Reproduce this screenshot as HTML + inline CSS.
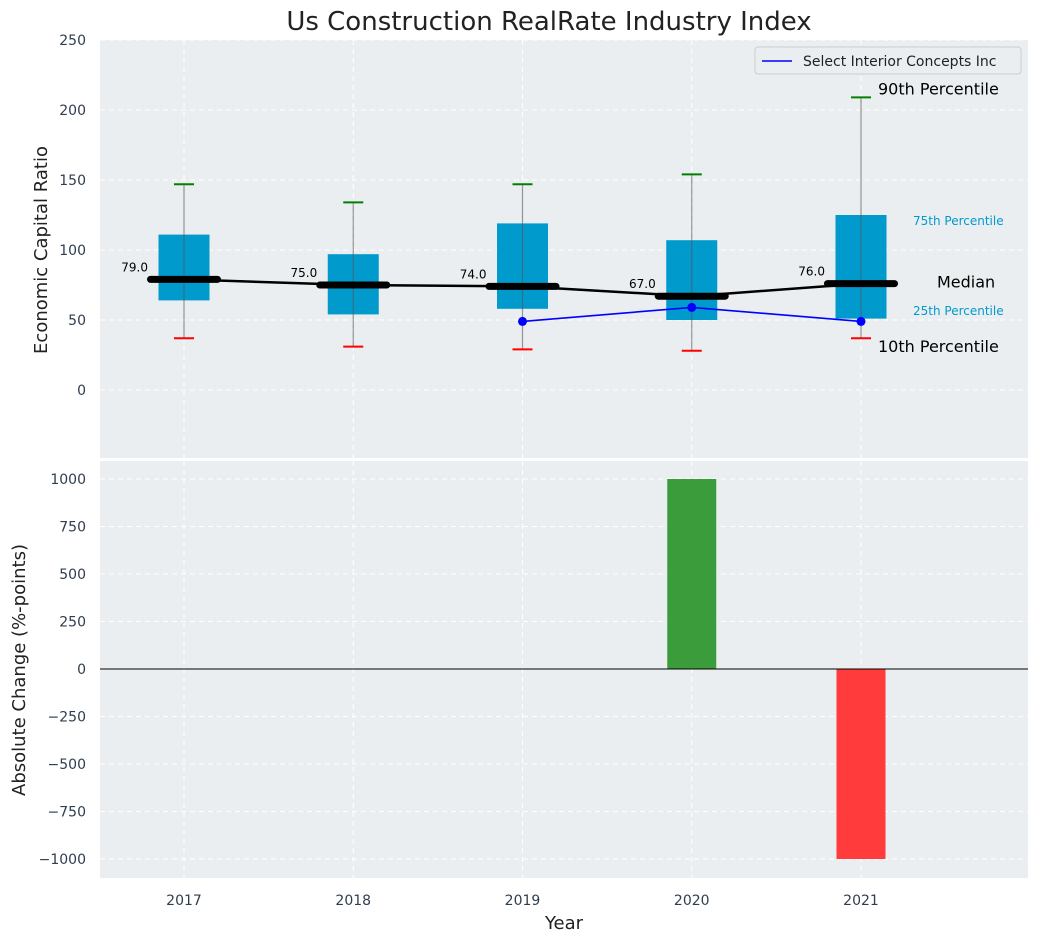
<!DOCTYPE html>
<html><head><meta charset="utf-8"><style>
body{margin:0;background:#fff;font-family:"Liberation Sans","DejaVu Sans",sans-serif}
svg text{font-family:"DejaVu Sans","Liberation Sans",sans-serif}
</style></head><body>
<svg id="c" width="1039" height="942" xmlns="http://www.w3.org/2000/svg"></svg>
<script>
const years=[2017,2018,2019,2020,2021];
const p10=[37,31,29,28,37];
const q1=[64,54,58,50,51];
const med=[79,75,74,67,76];
const q3=[111,97,119,107,125];
const p90=[147,134,147,154,209];
const compYears=[2019,2020,2021];
const compVals=[49,59,49];
const changes=[0,0,0,1000,-1000];
const topTicks=[0,50,100,150,200,250];
const botTicks=[-1000,-750,-500,-250,0,250,500,750,1000];

const L=100,R=1028;
const X=v=>184+(v-2017)*169.25;
const Y1=v=>40+(250-v)/300*420;
const Y2=v=>460+(1100-v)/2200*418;
const S=document.getElementById('c');const NS='http://www.w3.org/2000/svg';
function el(t,a,name,txt){const e=document.createElementNS(NS,t);for(const k in a)e.setAttribute(k,a[k]);


if(txt!=null)e.textContent=txt;S.appendChild(e);return e;}

el('rect',{x:L,y:40,width:R-L,height:418,fill:'#eaeef0'},'top-plot-area');
el('rect',{x:L,y:461,width:R-L,height:417,fill:'#eaeef0'},'bottom-plot-area');
topTicks.forEach(t=>{el('line',{x1:L,x2:R,y1:Y1(t),y2:Y1(t),stroke:'#fff','stroke-dasharray':'5,4','stroke-width':1},'top-grid-line');
el('text',{x:86,y:Y1(t)+5,'text-anchor':'end','font-size':14,fill:'#2e3e50'},'top-y-tick',t);});
botTicks.forEach(t=>{el('line',{x1:L,x2:R,y1:Y2(t),y2:Y2(t),stroke:'#fff','stroke-dasharray':'5,4','stroke-width':1},'bottom-grid-line');
el('text',{x:86,y:Y2(t)+5,'text-anchor':'end','font-size':14,fill:'#2e3e50'},'bottom-y-tick',t<0?'\u2212'+(-t):t);});
years.forEach(y=>{
el('line',{x1:X(y),x2:X(y),y1:40,y2:458,stroke:'#fff','stroke-dasharray':'5,4'},'top-x-grid');
el('line',{x1:X(y),x2:X(y),y1:461,y2:878,stroke:'#fff','stroke-dasharray':'5,4'},'bottom-x-grid');
el('text',{x:X(y),y:905,'text-anchor':'middle','font-size':14,fill:'#2e3e50'},'x-tick',y);});

const bw=51;
years.forEach((y,i)=>{const x=X(y);
el('rect',{x:x-bw/2,y:Y1(q3[i]),width:bw,height:Y1(q1[i])-Y1(q3[i]),fill:'#009acd'},'iqr-box-'+y);
el('line',{x1:x,x2:x,y1:Y1(p90[i]),y2:Y1(p10[i]),stroke:'#555','stroke-opacity':0.6,'stroke-width':1.2},'whisker-'+y);
el('line',{x1:x-10,x2:x+10,y1:Y1(p90[i]),y2:Y1(p90[i]),stroke:'green','stroke-width':2},'p90-cap-'+y);
el('line',{x1:x-10,x2:x+10,y1:Y1(p10[i]),y2:Y1(p10[i]),stroke:'red','stroke-width':2},'p10-cap-'+y);
});
el('polyline',{points:years.map((y,i)=>X(y)+','+Y1(med[i])).join(' '),fill:'none',stroke:'#000','stroke-width':2.5},'median-line');
years.forEach((y,i)=>{const x=X(y);
el('line',{x1:x-bw/2-8,x2:x+bw/2+8,y1:Y1(med[i]),y2:Y1(med[i]),stroke:'#000','stroke-width':7,'stroke-linecap':'round'},'median-bar-'+y);
el('text',{x:x-36,y:Y1(med[i])-8,'text-anchor':'end','font-size':12,fill:'#000'},'median-label-'+y,med[i].toFixed(1));});
el('polyline',{points:compYears.map((y,i)=>X(y)+','+Y1(compVals[i])).join(' '),fill:'none',stroke:'blue','stroke-width':1.6},'company-line');
compYears.forEach((y,i)=>el('circle',{cx:X(y),cy:Y1(compVals[i]),r:4.5,fill:'blue'},'company-point-'+y));
el('text',{x:878,y:Y1(p90[4])-3,'font-size':16,fill:'#000'},'p90-annotation','90th Percentile');
el('text',{x:913,y:225,'font-size':12,fill:'#009acd'},'p75-annotation','75th Percentile');
el('text',{x:937,y:Y1(med[4])+4,'font-size':16,fill:'#000'},'median-annotation','Median');
el('text',{x:913,y:315,'font-size':12,fill:'#009acd'},'p25-annotation','25th Percentile');
el('text',{x:878,y:Y1(p10[4])+14,'font-size':16,fill:'#000'},'p10-annotation','10th Percentile');
el('rect',{x:755,y:47,width:266,height:27,rx:3,fill:'#eaeef0',stroke:'#ccc'},'legend');
el('line',{x1:762,x2:792,y1:61,y2:61,stroke:'blue','stroke-width':1.6},'legend-line');
el('text',{x:803,y:66,'font-size':14,fill:'#222'},'legend-label','Select Interior Concepts Inc');
years.forEach((y,i)=>{if(!changes[i])return;const v=changes[i];
el('rect',{x:X(y)-bw/2+1,y:Math.min(Y2(v),Y2(0)),width:bw-2,height:Math.abs(Y2(v)-Y2(0)),fill:v>0?'#3a9c3a':'#ff3b3b'},'change-bar-'+y);});
el('line',{x1:L,x2:R,y1:Y2(0),y2:Y2(0),stroke:'#000','stroke-width':1},'zero-line');
el('text',{x:549,y:30,'text-anchor':'middle','font-size':26,fill:'#222'},'chart-title','Us Construction RealRate Industry Index');
el('text',{x:0,y:0,'text-anchor':'middle','font-size':18,fill:'#222',transform:'translate(47,250) rotate(-90)'},'top-y-axis-title','Economic Capital Ratio');
el('text',{x:0,y:0,'text-anchor':'middle','font-size':18,fill:'#222',transform:'translate(25,670) rotate(-90)'},'bottom-y-axis-title','Absolute Change (%-points)');
el('text',{x:564,y:929,'text-anchor':'middle','font-size':18,fill:'#222'},'x-axis-title','Year');
</script>
</body></html>
